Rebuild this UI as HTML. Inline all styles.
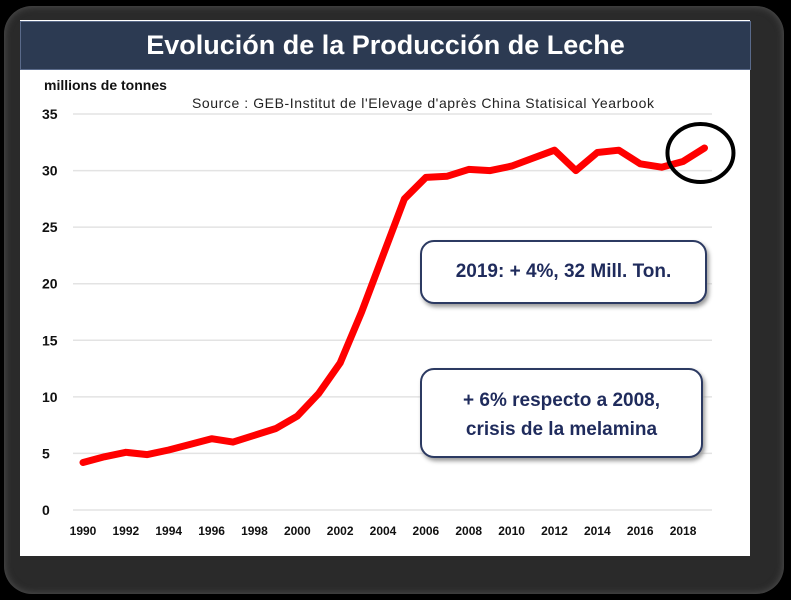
<!DOCTYPE html>
<html><head><meta charset="utf-8"><style>
html,body{margin:0;padding:0;background:#000;}
body{width:791px;height:600px;position:relative;overflow:hidden;font-family:"Liberation Sans",sans-serif;}
#shadow{position:absolute;left:4px;top:6px;width:780px;height:588px;border-radius:28px;background:#2a2a2a;box-shadow:0 0 8px #555 inset;}
#card{position:absolute;left:20px;top:20px;width:730px;height:536px;background:#fff;}
#title{position:absolute;left:20px;top:21px;width:729px;height:47px;background:#2c3a52;border:1px solid #5a6a8a;color:#fff;font-size:27px;font-weight:bold;text-align:center;line-height:47px;}
svg{position:absolute;left:0;top:0;}
.box{position:absolute;border:2px solid #2c3a62;border-radius:14px;background:#fff;color:#1f2b5c;font-weight:bold;font-size:19px;text-align:center;box-shadow:2px 3px 4px #999;}
</style></head><body>
<div id="shadow"></div>
<div id="card"></div>
<div id="title">Evolución de la Producción de Leche</div>
<svg id="chart" width="791" height="600"></svg>
<div class="box" style="left:420px;top:240px;width:283px;height:60px;line-height:60px;">2019: + 4%, 32 Mill. Ton.</div>
<div class="box" style="left:420px;top:368px;width:283px;height:90px;line-height:29px;padding-top:16px;box-sizing:border-box;">+ 6% respecto a 2008,<br>crisis de la melamina</div>
<script>
const years=[1990,1991,1992,1993,1994,1995,1996,1997,1998,1999,2000,2001,2002,2003,2004,2005,2006,2007,2008,2009,2010,2011,2012,2013,2014,2015,2016,2017,2018,2019];
const production=[4.2,4.7,5.1,4.9,5.3,5.8,6.3,6.0,6.6,7.2,8.3,10.3,13.0,17.5,22.5,27.5,29.4,29.5,30.1,30.0,30.4,31.1,31.8,30.0,31.6,31.8,30.6,30.3,30.8,32.0];
const yTicks=[0,5,10,15,20,25,30,35];
const xTicks=[1990,1992,1994,1996,1998,2000,2002,2004,2006,2008,2010,2012,2014,2016,2018];
const NS="http://www.w3.org/2000/svg";
const svg=document.getElementById('chart');
const xS=y=>83+(y-1990)*21.43;
const yS=v=>510-v*11.314;
function mk(t,a){const e=document.createElementNS(NS,t);for(const k in a)e.setAttribute(k,a[k]);svg.appendChild(e);return e;}
yTicks.forEach(v=>{
 const g=mk('line',{x1:73,x2:712,y1:yS(v),y2:yS(v),stroke:'#e3e3e3','stroke-width':1.5});
 
 
 const t=mk('text',{x:42,y:yS(v)+5,'font-size':14,'font-weight':'bold',fill:'#111'});
 t.textContent=v;
 
 
});
xTicks.forEach(y=>{
 const t=mk('text',{x:xS(y),y:535,'font-size':12,'font-weight':'bold',fill:'#111','text-anchor':'middle'});
 t.textContent=y;
 
 
});
const yt=mk('text',{x:44,y:90,'font-size':14,'font-weight':'bold',fill:'#111'});
yt.textContent='millions de tonnes';


const src=mk('text',{x:192,y:108,'font-size':14,fill:'#222',textLength:462});
src.textContent="Source : GEB-Institut de l'Elevage d'après China Statisical Yearbook";


const d=years.map((y,i)=>(i?'L':'M')+xS(y).toFixed(1)+','+yS(production[i]).toFixed(1)).join(' ');
const p=mk('path',{d:d,fill:'none',stroke:'#ff0000','stroke-width':7,'stroke-linejoin':'round','stroke-linecap':'round'});


const li=production.length-1;
const c=mk('ellipse',{cx:xS(years[li])-4,cy:yS(production[li])+5,rx:33,ry:29,fill:'none',stroke:'#000','stroke-width':4});


</script>
</body></html>
